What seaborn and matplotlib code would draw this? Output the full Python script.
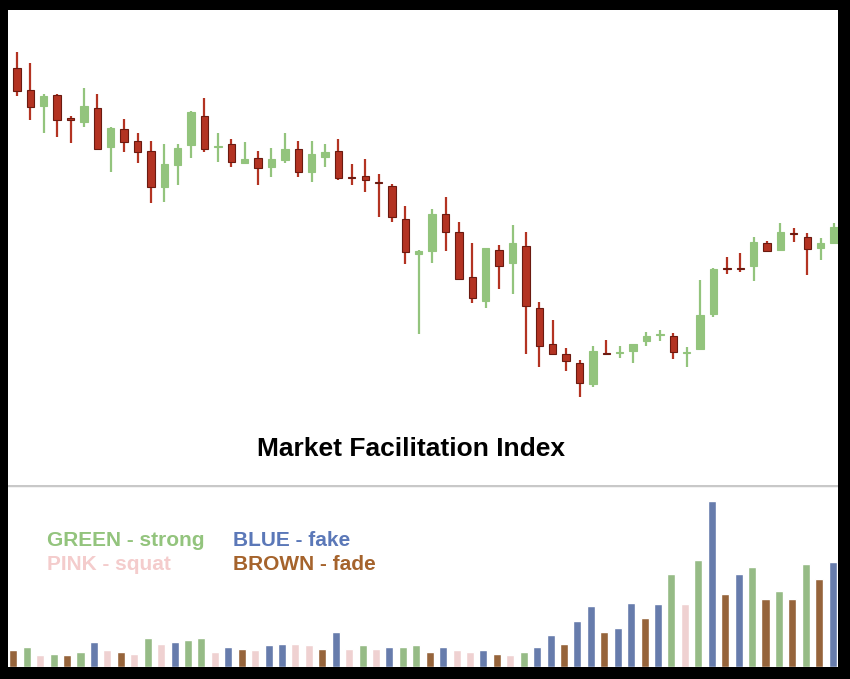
import numpy as np
import pandas as pd
import matplotlib
matplotlib.use("Agg")
import matplotlib.pyplot as plt
import seaborn as sns

sns.set_style("white")
plt.rcParams['font.family'] = ['Liberation Sans', 'DejaVu Sans']

high = [368.3,356.7,325.7,325.7,304,331.7,325.7,293.3,300.7,287.3,279,275.7,275.7,309,321.7,287.3,281,277.7,269,272.3,
        287.3,279,279,275.7,281,256,261,245.7,235.7,214.3,170,210.7,222.7,197.7,176.7,172.3,175,195,187.7,118.3,
        100,71.7,60,74,80,74,75.7,88.3,90,86.7,73.3,140,151.7,163.3,166.7,182.7,179.3,196.7,191.7,186.7,181.7,196.7]
low = [324.3,300,286.7,283.3,276.7,293.3,270,248.3,268.3,256.7,216.7,218.3,235,261.7,268.3,258.3,253.3,255.7,235,243.3,
       256.7,243.3,238.3,253.3,240,235,228.3,203.3,198.3,155.7,85.7,157.3,169,140,117.3,112.3,130.7,125.7,66,52.7,
       66,49.3,23.3,32.7,66.3,61.7,56.7,74.3,79.3,61,52.7,71,102.7,145.7,147.7,139,169,170,178.3,145,160,176.7]
opn = [351.7,330,314.3,325,302.3,298.3,311.7,273.3,290.7,279,269,233.3,255,275,304,273.3,275.7,256.7,262.3,253.3,
       260,270.7,248.3,263.3,269,243,244.3,238,234.3,201,165.7,169,206,187.7,143.3,119.3,170,157.3,174.3,111.7,
       75.7,65.7,57.3,36,67.3,66.7,69.3,79.3,85,84,66.7,71,105.7,151.7,151.7,154,176.7,170,186.7,182.7,172.3,177.3]
cls = [329.3,313.3,324,300,300,314,271,292.3,278.3,268.3,233.3,256,272.3,307.7,271,274,258.3,261,251.7,261,
       271,248.3,266,267.7,241.7,242,240,237,203.3,167.7,169.3,206,188.3,141,122.3,171.7,154,176.7,114.3,74.3,
       66,59.3,36.7,69,66.3,67.3,75.7,84.3,86,67.7,67.3,105,150.7,150.7,150.7,178,169,187.7,185.7,170.7,176.7,192.7]

volume = [49,59,35,39,34,44,74,49,44,39,84,69,74,79,84,44,59,54,49,64,69,69,64,54,104,54,64,54,59,59,
          64,44,59,49,44,49,39,34,44,59,94,69,134,179,104,114,189,144,184,272,184,314,487,214,272,294,199,224,199,302,259,309]
vcat = ["brown","green","pink","green","brown","green","blue","pink","brown","pink","green","pink","blue","green","green",
        "pink","blue","brown","pink","blue","blue","pink","pink","brown","blue","pink","green","pink","blue","green",
        "green","brown","blue","pink","pink","blue","brown","pink","green","blue","blue","brown","blue","blue","brown",
        "blue","blue","brown","blue","green","pink","green","blue","brown","blue","green","brown","green","brown","green",
        "brown","blue"]
palette = {"green": "#93c47d", "blue": "#5b78b8", "pink": "#f4cccc", "brown": "#a5632c"}

W, H = 850, 679
fig = plt.figure(figsize=(8.5, 6.79), dpi=100, facecolor="black")
L, R = 8 / W, 838 / W
ax = fig.add_axes([L, 1 - 485 / H, R - L, 475 / H])
axv = fig.add_axes([L, 1 - 667 / H, R - L, 182 / H])
for a in (ax, axv):
    a.set_facecolor("white")
    for s in a.spines.values():
        s.set_visible(False)

n = len(high)
x = np.arange(n)
up = np.array(cls) >= np.array(opn)
red, grn = "#b33322", "#93c47d"
cols = [grn if u else red for u in up]
ax.vlines(x, low, high, colors=cols, linewidth=1.6, zorder=1)
bottoms = np.minimum(opn, cls)
heights = np.maximum(np.abs(np.array(cls) - np.array(opn)), 1.2)
ax.bar(x, heights, bottom=bottoms, width=0.55, color=cols,
       edgecolor=["#6b1a10" if not u else grn for u in up], linewidth=0.8, zorder=2)
ax.set_xlim(-0.67, 61.3)
ax.set_ylim(-65, 410)
ax.set_xticks([]); ax.set_yticks([])
ax.text(0.485, 0.075, "Market Facilitation Index", transform=ax.transAxes,
        ha="center", va="center", fontsize=19, fontweight="bold", color="black")

df = pd.DataFrame({"i": x, "v": volume, "c": vcat})
sns.barplot(data=df, x="i", y="v", hue="c", palette=palette, dodge=False,
            legend=False, width=0.6, ax=axv, native_scale=True)
axv.set_xlim(-0.4, 61.4)
axv.set_ylim(0, 535)
axv.set_xlabel(""); axv.set_ylabel("")
axv.set_yticks([])
axv.set_xticks([3.3, 15.6, 27.7, 39.8, 52.0])
axv.set_xticklabels([])
axv.tick_params(axis="x", direction="out", length=12, color="#888888", width=1)
axv.axhline(535, color="#c8c8c8", linewidth=2.5)

fs = 15
fig.text(47 / W, 1 - 541 / H, "GREEN - strong", color=palette["green"], fontsize=fs, fontweight="bold", va="center")
fig.text(233 / W, 1 - 541 / H, "BLUE - fake", color=palette["blue"], fontsize=fs, fontweight="bold", va="center")
fig.text(47 / W, 1 - 565 / H, "PINK - squat", color=palette["pink"], fontsize=fs, fontweight="bold", va="center")
fig.text(233 / W, 1 - 565 / H, "BROWN - fade", color=palette["brown"], fontsize=fs, fontweight="bold", va="center")

fig.savefig("out.png", dpi=100, facecolor="black")
